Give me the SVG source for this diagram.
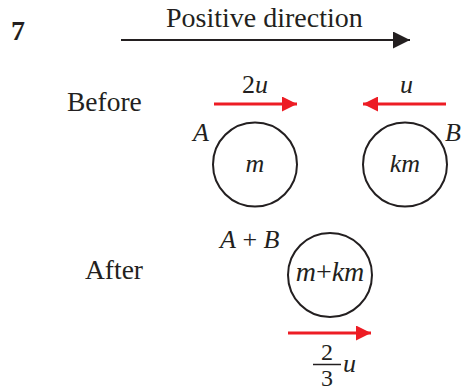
<svg xmlns="http://www.w3.org/2000/svg" width="463" height="388" viewBox="0 0 463 388">
<style>
.t{font-family:"Liberation Serif","Times New Roman",serif;fill:#231f20}
.i{font-style:italic}
.ball{fill:none;stroke:#231f20;stroke-width:2}
.red{stroke:#ed1c24;stroke-width:3;fill:none}
.blk{stroke:#231f20;stroke-width:2;fill:none}
</style>
<defs>
<marker id="ar" viewBox="0 0 10 10" refX="10" refY="5" markerWidth="5" markerHeight="5" orient="auto" markerUnits="strokeWidth"><path d="M0,0L10,5L0,10z" fill="#ed1c24"/></marker>
<marker id="ab" viewBox="0 0 10 10" refX="10" refY="5" markerWidth="8.5" markerHeight="8.5" orient="auto" markerUnits="strokeWidth"><path d="M0,0L10,5L0,10z" fill="#231f20"/></marker>
</defs>
<text class="t" x="11" y="40" font-size="28" font-weight="bold">7</text>
<text class="t" x="166" y="27" font-size="28">Positive direction</text>
<text class="t" x="67" y="111" font-size="27.5">Before</text>
<text class="t" x="85" y="279" font-size="27.5">After</text>
<g id="connectors">
<line class="blk" x1="121" y1="40" x2="410" y2="40" marker-end="url(#ab)"/>
<line class="red" x1="214" y1="104" x2="297" y2="104" marker-end="url(#ar)"/>
<line class="red" x1="446" y1="104" x2="363" y2="104" marker-end="url(#ar)"/>
<line class="red" x1="288" y1="333" x2="371" y2="333" marker-end="url(#ar)"/>
</g>
<g id="labels">
<text class="t" x="242" y="93" font-size="26">2<tspan class="i">u</tspan></text>
<text class="t i" x="400" y="93" font-size="26">u</text>
</g>
<g id="ballA">
<circle class="ball" cx="255" cy="164.5" r="42"/>
<text class="t i" x="255" y="172" font-size="26" text-anchor="middle">m</text>
<text class="t i" x="193" y="141" font-size="26">A</text>
</g>
<g id="ballB">
<circle class="ball" cx="405" cy="164.5" r="42"/>
<text class="t i" x="405" y="172" font-size="26" text-anchor="middle">km</text>
<text class="t i" x="445" y="141" font-size="26">B</text>
</g>
<g id="ballAB">
<circle class="ball" cx="330" cy="275" r="42"/>
<text class="t" x="330" y="281" font-size="28" text-anchor="middle"><tspan class="i">m</tspan>+<tspan class="i">km</tspan></text>
<text class="t" x="220" y="248" font-size="26"><tspan class="i">A</tspan> + <tspan class="i">B</tspan></text>
</g>
<g id="velocity">
<text class="t" x="327" y="360" font-size="24" text-anchor="middle">2</text>
<line x1="313" y1="364.5" x2="341" y2="364.5" stroke="#231f20" stroke-width="1.5"/>
<text class="t" x="327" y="386" font-size="24" text-anchor="middle">3</text>
<text class="t i" x="343" y="372" font-size="26">u</text>
</g>
</svg>
